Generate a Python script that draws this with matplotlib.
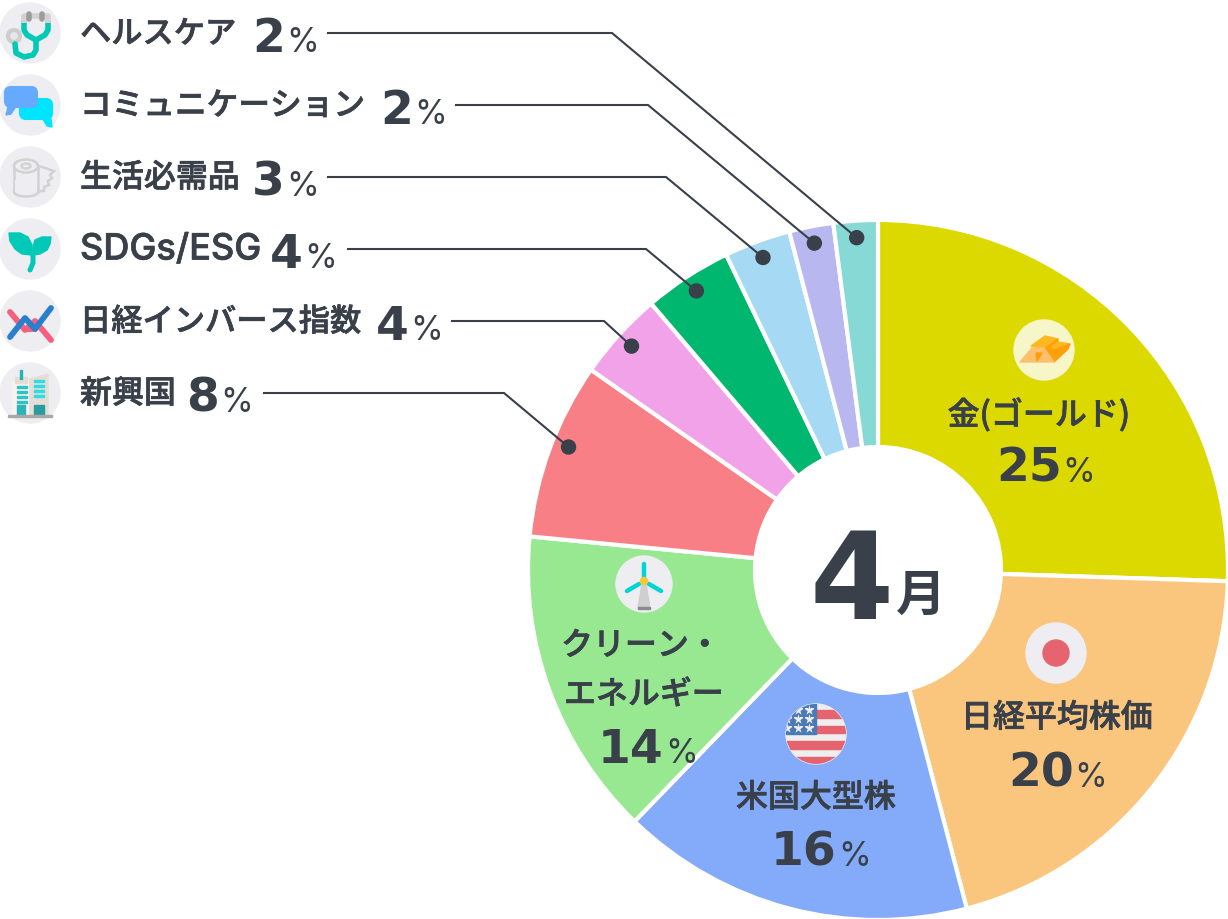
import math
import matplotlib
matplotlib.use("Agg")
import matplotlib.pyplot as plt
import matplotlib.patheffects as pe
from matplotlib.patches import Circle, Polygon, FancyBboxPatch, Ellipse, Rectangle

plt.rcParams['font.family'] = ['Noto Sans CJK JP', 'DejaVu Sans']

# wedge order, clockwise from the top
values = [25, 20, 16, 14, 8, 4, 4, 3, 2, 2]
colors = ['#DCD900', '#FAC57D', '#84ABF9', '#98E892', '#F77F85',
          '#F2A2E8', '#00B76F', '#A6D9F4', '#B9B7F0', '#86D9D5']

# left-hand list, top to bottom
side_names = ['ヘルスケア', 'コミュニケーション', '生活必需品', 'SDGs/ESG', '日経インバース指数', '新興国']
side_values = [2, 2, 3, 4, 4, 8]
side_wedges = [9, 8, 7, 6, 5, 4]
side_dot_share = [0.5, 0.5, 0.5, 0.5, 0.5, 0.55]
side_sizes = [22.5, 22.8, 23, 26, 22.5, 23]
side_num_x = [252, 380, 252, 270, 376, 186]
side_line_x = [328, 456, 328, 348, 452, 264]
side_elbow_x = [612, 648, 666, 646, 604, 504]
row_y = [33, 105, 177, 249, 321, 393]

INK = '#39404A'
ICON_BG = '#EEEEF2'
TEAL = '#00C9B7'
CX, CY, R, R_IN = 878, 570, 350, 123

fig = plt.figure(figsize=(12.28, 9.20), dpi=100)
ax = fig.add_axes([0, 0, 1, 1])

# axis is flipped (pixels, y down) so counterclock here reads clockwise on screen
wedges, _ = ax.pie(values, colors=colors, startangle=-90, counterclock=True,
                   center=(CX, CY), radius=R,
                   wedgeprops=dict(width=R - R_IN, edgecolor='white', linewidth=3))
ax.set_xlim(0, 1228)
ax.set_ylim(919, -1)
ax.set_aspect('equal')
ax.axis('off')

# the medium face comes out a touch thin, so thicken it slightly
thicker = [pe.withStroke(linewidth=0.5, foreground=INK)]


def label(x, y, s, size=23, weight='medium', ha='left', family=None):
    ax.text(x, y, s, fontsize=size, fontweight=weight, color=INK, ha=ha, va='center', family=family,
            path_effects=thicker)


def number(x, base, n):
    t = ax.text(x, base, str(n), fontsize=34, fontweight='bold', color=INK, ha='left', va='baseline',
                family='DejaVu Sans')
    fig.canvas.draw()
    w = t.get_window_extent().width
    ax.text(x + w + 1, base, '%', fontsize=24, color=INK, ha='left', va='baseline',
            family='Inter', fontweight='normal')


def line(xs, ys, color, lw, cap='round'):
    ax.plot(xs, ys, color=color, lw=lw, solid_capstyle=cap, solid_joinstyle='round')


def stethoscope(cx, cy):
    ax.add_patch(Circle((cx, cy), 30, color=ICON_BG))
    line([cx - 6, cx - 6, cx - 3, cx + 6, cx + 15, cx + 18, cx + 18],
         [cy - 10, cy - 3, cy + 2, cy + 7, cy + 2, cy - 3, cy - 10], TEAL, 4)
    line([cx + 6, cx + 6, cx + 3, cx - 6, cx - 14, cx - 15],
         [cy + 7, cy + 17, cy + 22, cy + 24, cy + 20, cy + 11], TEAL, 4)
    line([cx - 6, cx - 6, cx + 18, cx + 18], [cy - 10, cy - 17, cy - 17, cy - 10], '#D2D2D2', 4, 'butt')
    line([cx - 1, cx - 1], [cy - 19, cy - 14], '#9C9C9C', 4)
    line([cx + 12, cx + 12], [cy - 19, cy - 14], '#9C9C9C', 4)
    ax.add_patch(Circle((cx - 16, cy + 3), 6, fc='#E8E8E8', ec='#CDCDCD', lw=3))


def chat(cx, cy):
    ax.add_patch(Circle((cx, cy), 30, color=ICON_BG))
    ax.add_patch(Polygon([(cx + 13, cy + 14), (cx + 21, cy + 14), (cx + 22, cy + 22), (cx + 17, cy + 21)], color='#00E5FF'))
    ax.add_patch(FancyBboxPatch((cx - 10, cy - 6), 32, 20, boxstyle='round,pad=0,rounding_size=6', fc='#00E5FF', ec='#00E5FF', lw=1.5))
    ax.add_patch(Polygon([(cx - 22, cy + 2), (cx - 15, cy + 3), (cx - 19, cy + 9), (cx - 24, cy + 10)], color='#66AAFF'))
    ax.add_patch(FancyBboxPatch((cx - 25, cy - 18), 32, 20, boxstyle='round,pad=0,rounding_size=6', fc='#66AAFF', ec='#66AAFF', lw=1.5))


def tissue(cx, cy):
    ax.add_patch(Circle((cx, cy), 30, color=ICON_BG))
    gray = '#D2D2D2'
    ax.add_patch(Polygon([(cx - 3, cy - 15), (cx + 24, cy - 6), (cx + 20, cy - 2), (cx + 22, cy + 1), (cx + 18, cy + 4),
                          (cx + 19, cy + 8), (cx + 14, cy + 10), (cx + 14, cy + 14), (cx, cy + 14)],
                         fc=ICON_BG, ec=gray, lw=1.8))
    ax.add_patch(Rectangle((cx - 16, cy - 11), 23, 30, fc=ICON_BG, ec='none'))
    line([cx - 16, cx - 16], [cy - 11, cy + 15], gray, 1.8)
    line([cx + 8, cx + 8], [cy - 11, cy + 15], gray, 1.8)
    ax.add_patch(Ellipse((cx - 4, cy + 15), 24, 9, fc='none', ec=gray, lw=1.8, zorder=2))
    ax.add_patch(Rectangle((cx - 15, cy + 3), 22, 12, fc=ICON_BG, ec='none', zorder=2.1))
    ax.add_patch(Ellipse((cx - 4, cy - 11), 24, 13, fc=ICON_BG, ec=gray, lw=1.8, zorder=3))
    ax.add_patch(Ellipse((cx - 4, cy - 11), 9, 5, fc=ICON_BG, ec=gray, lw=1.8, zorder=3))


def sprout(cx, cy):
    ax.add_patch(Circle((cx, cy), 30, color=ICON_BG))
    ax.add_patch(Polygon([(cx - 21, cy - 16), (cx - 10, cy - 16), (cx - 2, cy - 12), (cx + 2, cy - 4), (cx + 2, cy + 6),
                          (cx - 8, cy + 5), (cx - 15, cy), (cx - 20, cy - 8)], color=TEAL))
    ax.add_patch(Polygon([(cx + 21, cy - 12), (cx + 12, cy - 12), (cx + 5, cy - 9), (cx + 3, cy - 2), (cx + 3, cy + 6),
                          (cx + 10, cy + 5), (cx + 17, cy + 1), (cx + 20, cy - 5)], color=TEAL))
    line([cx + 3, cx + 3, cx], [cy + 3, cy + 14, cy + 21], TEAL, 3.6)


def inverse(cx, cy):
    ax.add_patch(Circle((cx, cy), 30, color=ICON_BG))
    red, blue = '#F6607C', '#2A7FCC'
    line([cx - 20, cx - 5, cx + 5, cx + 21], [cy - 9, cy + 9, cy, cy + 19], red, 4.2)
    line([cx - 5, cx + 5], [cy + 8, cy + 8], red, 4.2)
    line([cx - 20, cx - 5, cx + 5, cx + 21], [cy + 16, cy - 3, cy + 8, cy - 13], blue, 4.2)


def buildings(cx, cy):
    ax.add_patch(Circle((cx, cy), 30, color=ICON_BG))
    ax.add_patch(Rectangle((cx - 18, cy - 11), 16, 33, color='#F7F3EE'))
    ax.add_patch(Rectangle((cx - 15, cy - 16), 12, 6, color='#E6DCD2'))
    ax.add_patch(Polygon([(cx, cy - 14), (cx + 18, cy - 19), (cx + 18, cy + 22), (cx, cy + 22)], color='#E6DED6'))
    ax.add_patch(Rectangle((cx - 10, cy - 23), 2, 9, color='#1FB5BD'))
    for yy in (-7, -2, 3, 8):
        ax.add_patch(Rectangle((cx - 13, cy + yy), 10, 2.4, color='#2CC4C9'))
    for yy in (-13, -8, -3, 2):
        ax.add_patch(Rectangle((cx + 4, cy + yy), 10, 2.4, color='#2DDDE5'))
    ax.add_patch(Rectangle((cx - 13, cy + 12), 8, 10, color='#2BB5B8'))
    ax.add_patch(Rectangle((cx + 4, cy + 12), 10, 10, color='#2A9CA0'))
    ax.add_patch(Rectangle((cx - 22, cy + 22), 44, 2, color='#A8A8A8'))


def gold(cx, cy):
    ax.add_patch(Circle((cx, cy), 30, color='#F6F6C8'))
    # back bars
    ax.add_patch(Polygon([(cx - 13, cy - 4), (cx + 1, cy - 14), (cx + 14, cy - 11), (cx + 0, cy - 1)], color='#FFB81F'))
    ax.add_patch(Polygon([(cx - 3, cy + 1), (cx + 14, cy - 11), (cx + 14, cy - 4), (cx + 4, cy + 5)], color='#FF9F0A'))
    ax.add_patch(Polygon([(cx + 8, cy - 4), (cx + 14, cy - 8), (cx + 26, cy - 6), (cx + 13, cy + 4)], color='#FFB81F'))
    ax.add_patch(Polygon([(cx + 2, cy + 3), (cx + 26, cy - 6), (cx + 24, cy - 1), (cx + 10, cy + 12)], color='#FF9F0A'))
    # front bar
    ax.add_patch(Polygon([(cx - 24, cy + 12), (cx - 12, cy - 2), (cx + 0, cy - 2), (cx + 10, cy + 12)], color='#FFC06E'))
    ax.add_patch(Polygon([(cx - 8, cy + 3), (cx - 2, cy + 3), (cx - 7, cy + 11)], color='#FF9F0A'))


def japan(cx, cy):
    ax.add_patch(Circle((cx, cy), 30, color=ICON_BG))
    ax.add_patch(Circle((cx, cy), 13, color='#E5646F'))


def usa(cx, cy):
    bg = Circle((cx, cy), 30, color='#EEEEEE')
    ax.add_patch(bg)
    for k in range(4):
        s = Rectangle((cx - 30, cy - 24 + k * 15.6), 60, 7.8, color='#E5646F')
        ax.add_patch(s)
        s.set_clip_path(bg)
    canton = Rectangle((cx - 30, cy - 30), 30, 30, color='#4A7BB5')
    ax.add_patch(canton)
    canton.set_clip_path(bg)
    sx = [cx - 18, cx - 7, cx - 29, cx - 18, cx - 7, cx - 29, cx - 18, cx - 7]
    sy = [cy - 24, cy - 24, cy - 15, cy - 15, cy - 15, cy - 6, cy - 6, cy - 6]
    stars = ax.scatter(sx, sy, marker='*', s=55, color='#EEEEEE', linewidths=0)
    stars.set_clip_path(bg)


def windmill(cx, cy):
    ax.add_patch(Circle((cx, cy), 28, color=ICON_BG))
    ax.add_patch(Polygon([(cx - 2, cy), (cx + 2, cy), (cx + 6, cy + 24), (cx - 6, cy + 24)], color='#CFCFCF'))
    ax.add_patch(Rectangle((cx - 6, cy + 23), 12, 2.5, color='#8A8A8A'))
    line([cx, cx], [cy - 20, cy - 6], '#00D5D5', 3.2)
    line([cx + 5, cx + 17], [cy + 0, cy + 7], '#00D5D5', 3.2)
    line([cx - 5, cx - 17], [cy + 0, cy + 7], '#00D5D5', 3.2)
    ax.add_patch(Circle((cx, cy - 3), 3.5, color='#FFC533', zorder=5))


side_icons = [stethoscope, chat, tissue, sprout, inverse, buildings]

# left list with leader lines ending on each wedge
total = sum(values)
for i in range(len(side_names)):
    y = row_y[i]
    side_icons[i](30, y)
    fam = 'Inter' if side_names[i].isascii() else None
    label(80, y + 1, side_names[i], size=side_sizes[i], family=fam)
    number(side_num_x[i], y + 18, side_values[i])
    k = side_wedges[i]
    mid = (sum(values[:k]) + values[k] * side_dot_share[i]) / total * 2 * math.pi
    dx = CX + 333 * math.sin(mid)
    dy = CY - 333 * math.cos(mid)
    ax.plot([side_line_x[i], side_elbow_x[i], dx], [y, y, dy], color=INK, lw=1.5, solid_joinstyle='miter')
    ax.add_patch(Circle((dx, dy), 7, color=INK, zorder=6))

# labels inside the big wedges
gold(1044, 350)
label(1039, 415, '金(ゴールド)', ha='center')
number(996, 481, values[0])

japan(1056, 653)
label(1057, 718, '日経平均株価', ha='center')
number(1008, 786, values[1])

usa(816, 734)
label(816, 798, '米国大型株', ha='center')
number(771, 865, values[2])

windmill(644, 584)
label(641, 646, 'クリーン・', ha='center')
label(644, 695, 'エネルギー', ha='center')
number(598, 762, values[3])

# centre
ax.text(810, 618, '4', fontsize=87, fontweight='bold', color=INK, ha='left', va='baseline',
        family='DejaVu Sans')
ax.text(921, 595, '月', fontsize=36, fontweight='bold', color=INK, ha='center', va='center')

fig.savefig('out.png', dpi=100)
